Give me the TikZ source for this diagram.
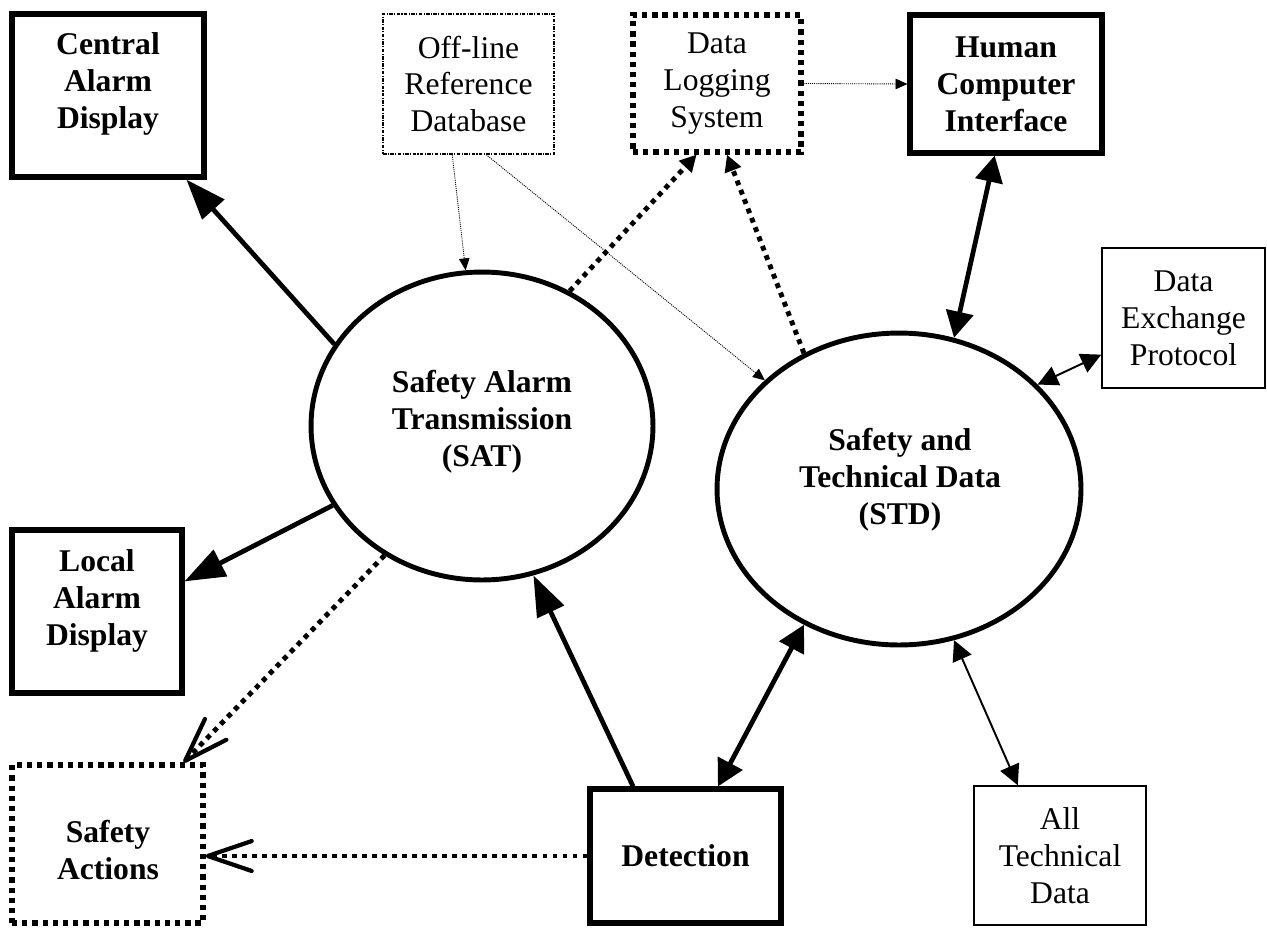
\documentclass[tikz,border=0pt]{standalone}
\usepackage{fontspec}
\setmainfont{Liberation Serif}
\usetikzlibrary{arrows.meta,shapes.geometric,calc}
\tikzset{
  BigTri/.tip={Triangle[length=23pt,width=16.5pt]},
  MidTri/.tip={Triangle[length=15pt,width=15.5pt]},
  DotTri/.tip={Triangle[length=9.5pt,width=9.5pt]},
  SmallTri/.tip={Triangle[length=11.5pt,width=11.5pt]},
  TinyTri/.tip={Triangle[length=6.8pt,width=6pt]},
  OpenV/.tip={Straight Barb[length=25pt,width=17pt,line width=2.4pt,round]},
}
\begin{document}
\begin{tikzpicture}[x=0.02cm,y=-0.02cm,
  txt/.style={align=center,inner sep=0pt,font=\fontsize{18}{21}\selectfont},
  btxt/.style={align=center,inner sep=0pt,font=\fontsize{18}{21}\selectfont\bfseries},
  thickbox/.style={draw,rectangle,line width=2.9pt,inner sep=0pt},
  thinbox/.style={draw,rectangle,line width=0.9pt,inner sep=0pt},
  dotbox/.style={draw,rectangle,line width=3pt,dash pattern=on 3pt off 2.8pt,inner sep=0pt},
  dashdotbox/.style={draw,rectangle,line width=0.7pt,dash pattern=on 2pt off 0.8pt on 0.6pt off 0.8pt,inner sep=0pt},
  bubble/.style={draw,ellipse,line width=2.8pt,inner sep=0pt},
  thickline/.style={line width=2.7pt},
  thinline/.style={line width=1.1pt},
  dotline/.style={line width=2.8pt,dash pattern=on 2.8pt off 2.9pt},
  finedot/.style={line width=0.5pt,dash pattern=on 0.6pt off 0.6pt},
]
\useasboundingbox (0,0) rectangle (1267,927);

% boxes
\node[thickbox,minimum width=3.84cm,minimum height=3.26cm] (cad) at (108,95.5) {};
\node[btxt] (cadt) at (108,84) {Central\\Alarm\\Display};
\node[dashdotbox,txt,minimum width=3.42cm,minimum height=2.80cm] (ord) at (468.5,84) {Off-line\\Reference\\Database};
\node[dotbox,txt,minimum width=3.36cm,minimum height=2.74cm] (dls) at (717,83.5) {Data\\Logging\\System};
\node[thickbox,btxt,minimum width=3.84cm,minimum height=2.76cm] (hci) at (1006,84) {Human\\Computer\\Interface};
\node[thinbox,txt,minimum width=3.26cm,minimum height=2.80cm] (dep) at (1183.5,318) {Data\\Exchange\\Protocol};
\node[thickbox,minimum width=3.40cm,minimum height=3.26cm] (lad) at (97,611.5) {};
\node[btxt] (ladt) at (97,601) {Local\\Alarm\\Display};
\node[dotbox,minimum width=3.82cm,minimum height=3.16cm] (sa) at (107.5,844) {};
\node[btxt] (sat_t) at (108,850) {Safety\\Actions};
\node[thickbox,btxt,minimum width=3.82cm,minimum height=2.68cm] (det) at (685.5,856) {Detection};
\node[thinbox,txt,minimum width=3.44cm,minimum height=2.78cm] (atd) at (1060,855.5) {All\\Technical\\Data};

% bubbles
\node[bubble,minimum width=6.84cm,minimum height=6.16cm] (sat) at (482,426) {};
\node[btxt] (satt) at (482,422) {Safety Alarm\\Transmission\\(SAT)};
\node[bubble,minimum width=7.28cm,minimum height=6.24cm] (std) at (899,489) {};
\node[btxt] (stdt) at (900,480) {Safety and\\Technical Data\\(STD)};

% connectors
\draw[thickline,-BigTri] (sat.151) -- (cad.-47.5);
\draw[thickline,-BigTri] (sat.208) -- (lad.19.7);
\draw[dotline,-OpenV] (sat.233) -- (sa.47.4);
\draw[dotline,-OpenV] (det.west) -- (det.west -| sa.east);
\draw[thickline,-BigTri] (det.127.8) -- (sat.289);
\draw[thickline,MidTri-MidTri] (det.65.4) -- (std.235);
\draw[thinline,SmallTri-SmallTri] (std.290) -- (atd.121.7);
\draw[thinline,SmallTri-SmallTri] (std.37) -- (dep.204.4);
\draw[thickline,MidTri-MidTri] (std.70) -- (hci.261.2);
\draw[dotline,-DotTri] (sat.57) -- (dls.254.4);
\draw[dotline,-DotTri] (std.125.5) -- (dls.278.7);
\draw[finedot,-TinyTri] (ord.257.5) -- (sat.96);
\draw[finedot,-TinyTri] (ord.284) -- (std.141);
\draw[finedot,-TinyTri] (dls.east) -- (hci.west);
\end{tikzpicture}
\end{document}
